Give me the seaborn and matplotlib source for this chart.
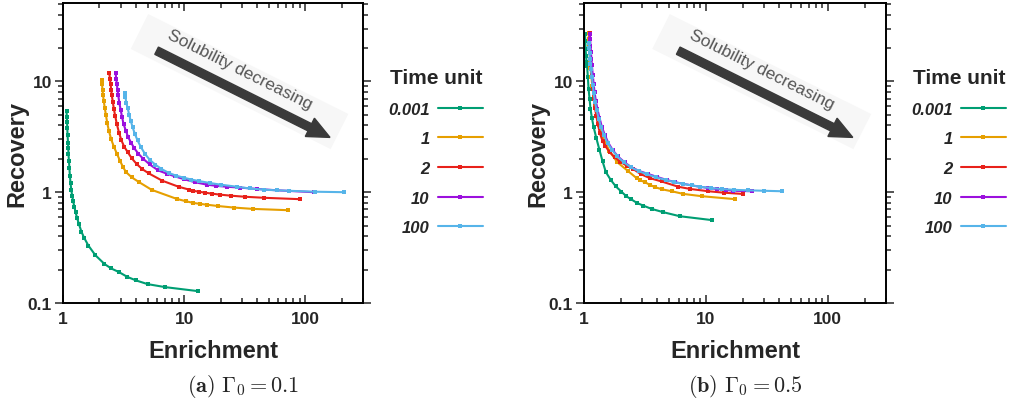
import numpy as np
import pandas as pd
import matplotlib
matplotlib.use("Agg")
import matplotlib.pyplot as plt
import seaborn as sns
from matplotlib.patches import FancyArrow, Polygon
from matplotlib.ticker import LogLocator, NullFormatter, FixedLocator, FixedFormatter

# ---------------- data ----------------
time_units = ["0.001", "1", "2", "10", "100"]
colors = ["#009E73", "#E69F00", "#E8211A", "#9B10DD", "#56B4E9"]

# Panel (a) Gamma0 = 0.1
a_x_0001 = [1.07, 1.075, 1.08, 1.085, 1.09, 1.10, 1.105, 1.11, 1.12, 1.13, 1.14, 1.155, 1.17, 1.19, 1.21,
            1.24, 1.27, 1.31, 1.35, 1.42, 1.49, 1.62, 1.85, 2.2, 2.5, 2.9, 3.4, 4.0, 5.0, 7.0, 13.0]
a_y_0001 = [5.4, 4.8, 4.3, 3.8, 3.3, 2.8, 2.5, 2.2, 1.9, 1.65, 1.4, 1.2, 1.05, 0.93, 0.84,
            0.74, 0.66, 0.58, 0.52, 0.44, 0.39, 0.33, 0.27, 0.225, 0.205, 0.19, 0.172, 0.16, 0.148, 0.139, 0.128]
a_x_1 = [2.08, 2.10, 2.12, 2.14, 2.17, 2.21, 2.26, 2.32, 2.39, 2.50, 2.64, 2.80, 2.95, 3.12, 3.31, 3.70,
         4.26, 5.4, 8.7, 10.3, 11.9, 13.5, 15.6, 19.1, 25.6, 36.8, 72]
a_y_1 = [10.4, 9.4, 8.45, 7.5, 6.7, 5.8, 5.0, 4.2, 3.6, 3.0, 2.55, 2.2, 1.93, 1.70, 1.52, 1.36,
         1.23, 1.05, 0.87, 0.83, 0.80, 0.785, 0.77, 0.75, 0.727, 0.707, 0.688]
a_x_2 = [2.41, 2.44, 2.47, 2.50, 2.53, 2.58, 2.63, 2.70, 2.78, 2.90, 3.04, 3.20, 3.42, 3.70, 4.05, 4.5,
         5.1, 6.6, 9.0, 11.0, 11.9, 13.2, 14.9, 17.0, 19.9, 24.4, 31.6, 46, 91]
a_y_2 = [11.9, 10.6, 9.5, 8.4, 7.46, 6.5, 5.65, 4.85, 4.14, 3.45, 2.93, 2.58, 2.30, 2.02, 1.80, 1.62,
         1.48, 1.27, 1.12, 1.055, 1.03, 1.01, 0.99, 0.97, 0.95, 0.93, 0.91, 0.89, 0.865]
a_x_10 = [2.72, 2.75, 2.78, 2.82, 2.86, 2.92, 2.99, 3.07, 3.16, 3.30, 3.45, 3.65, 3.87, 4.2, 4.6, 5.2,
          6.13, 7.2, 8.4, 10.0, 12.3, 15.4, 18.5, 22.6, 29.1, 40, 58.6, 118]
a_y_10 = [11.9, 10.6, 9.5, 8.4, 7.46, 6.4, 5.57, 4.8, 4.14, 3.6, 3.14, 2.8, 2.5, 2.22, 2.0, 1.78,
          1.57, 1.47, 1.39, 1.31, 1.23, 1.17, 1.14, 1.12, 1.10, 1.07, 1.04, 1.0]
a_x_100 = [3.24, 3.28, 3.33, 3.42, 3.52, 3.62, 3.76, 3.92, 4.13, 4.4, 4.75, 5.2, 5.8, 6.5, 7.5, 8.6,
           10.0, 11.5, 13.3, 16.4, 20, 27.3, 35, 45.4, 58, 73, 120, 211]
a_y_100 = [7.9, 7.2, 6.4, 5.73, 5.0, 4.43, 3.85, 3.36, 2.93, 2.55, 2.22, 1.96, 1.77, 1.62, 1.49, 1.41,
           1.35, 1.30, 1.26, 1.21, 1.17, 1.12, 1.08, 1.055, 1.04, 1.03, 1.01, 1.0]

# Panel (b) Gamma0 = 0.5
b_x_0001 = [1.02, 1.025, 1.03, 1.04, 1.05, 1.06, 1.075, 1.09, 1.11, 1.13, 1.16, 1.20, 1.26, 1.34,
            1.42, 1.51, 1.65, 1.82, 2.03, 2.22, 2.45, 2.72, 3.06, 3.58, 4.47, 6.1, 11.2]
b_y_0001 = [27, 23, 19.5, 17, 15, 13.9, 11, 8.6, 7, 5.67, 4.7, 3.87, 3.1, 2.4,
            1.9, 1.52, 1.3, 1.13, 1.01, 0.92, 0.86, 0.80, 0.757, 0.707, 0.66, 0.607, 0.56]
b_x_1 = [1.09, 1.095, 1.10, 1.11, 1.12, 1.13, 1.15, 1.17, 1.20, 1.23, 1.27, 1.32, 1.40, 1.50, 1.61,
         1.87, 2.30, 2.70, 2.90, 3.16, 3.45, 3.82, 4.40, 5.24, 6.52, 9.26, 17.4]
b_y_1 = [27.5, 24, 21, 18, 15.5, 13.2, 11, 9, 7.3, 6.0, 4.9, 4.0, 3.3, 2.8, 2.37,
         1.87, 1.55, 1.34, 1.28, 1.23, 1.17, 1.11, 1.06, 1.02, 0.965, 0.92, 0.865]
b_x_2 = [1.11, 1.115, 1.12, 1.13, 1.14, 1.15, 1.16, 1.18, 1.20, 1.23, 1.26, 1.30, 1.35, 1.42, 1.50,
         1.62, 1.78, 1.97, 2.25, 2.53, 2.91, 3.47, 4.33, 5.94, 7.42, 10.5, 14, 20]
b_y_2 = [27.5, 24, 21, 18, 15.8, 13.9, 11.5, 8.6, 7.0, 5.8, 4.9, 4.1, 3.4, 2.9, 2.6,
         2.3, 2.08, 1.89, 1.73, 1.62, 1.46, 1.34, 1.25, 1.12, 1.07, 1.02, 0.99, 0.965]
b_x_10 = [1.12, 1.125, 1.13, 1.14, 1.15, 1.16, 1.18, 1.20, 1.22, 1.25, 1.29, 1.34, 1.40, 1.48, 1.58,
          1.72, 1.90, 2.15, 2.45, 2.85, 3.36, 4.0, 4.77, 5.6, 6.52, 7.7, 8.94, 10.5, 12.3, 14.5, 16.8, 23.8]
b_y_10 = [27, 24, 21, 18.5, 16, 14, 11.5, 9.5, 8.0, 6.7, 5.6, 4.7, 3.9, 3.3, 2.8,
          2.4, 2.1, 1.86, 1.68, 1.55, 1.46, 1.37, 1.29, 1.23, 1.19, 1.15, 1.12, 1.09, 1.07, 1.05, 1.03, 1.02]
b_x_100 = [1.10, 1.105, 1.11, 1.12, 1.13, 1.14, 1.16, 1.18, 1.20, 1.23, 1.27, 1.32, 1.38, 1.46, 1.56,
           1.70, 1.88, 2.12, 2.42, 2.80, 3.3, 3.9, 4.7, 5.5, 6.5, 7.7, 9.0, 11, 13.5, 17, 22, 30, 42]
b_y_100 = [22, 20, 18, 16, 14.5, 13, 11, 9.2, 7.8, 6.5, 5.5, 4.6, 3.85, 3.25, 2.78,
           2.4, 2.1, 1.86, 1.68, 1.55, 1.45, 1.36, 1.29, 1.23, 1.19, 1.15, 1.12, 1.09, 1.07, 1.05, 1.04, 1.03, 1.02]

x_ticks = [1, 10, 100]
x_tick_labels = ["1", "10", "100"]
y_ticks = [0.1, 1, 10]
y_tick_labels = ["0.1", "1", "10"]
captions = [r"$\mathbf{(a)}\ \Gamma_0 = 0.1$", r"$\mathbf{(b)}\ \Gamma_0 = 0.5$"]

panel_a = [(a_x_0001, a_y_0001), (a_x_1, a_y_1), (a_x_2, a_y_2), (a_x_10, a_y_10), (a_x_100, a_y_100)]
panel_b = [(b_x_0001, b_y_0001), (b_x_1, b_y_1), (b_x_2, b_y_2), (b_x_10, b_y_10), (b_x_100, b_y_100)]


def to_frame(panel):
    rows = []
    for unit, (xs, ys) in zip(time_units, panel):
        for xv, yv in zip(xs, ys):
            rows.append({"Time unit": unit, "Enrichment": xv, "Recovery": yv})
    return pd.DataFrame(rows)


# ---------------- style ----------------
sns.set_style("ticks")
plt.rcParams["font.family"] = ["Liberation Sans", "DejaVu Sans"]
plt.rcParams["mathtext.fontset"] = "cm"

W, H = 1011, 402
fig = plt.figure(figsize=(W / 100, H / 100), dpi=100)

axes_px = [(63, 4, 300, 300), (584, 4, 302, 300)]
legend_px = [(388, 69), (911, 69)]
caption_px = [(243, 387), (745, 387)]

for k, panel in enumerate([panel_a, panel_b]):
    x0, y0, w, h = axes_px[k]
    ax = fig.add_axes([x0 / W, 1 - (y0 + h) / H, w / W, h / H])
    df = to_frame(panel)
    sns.lineplot(data=df, x="Enrichment", y="Recovery", hue="Time unit", hue_order=time_units,
                 palette=colors, sort=False, estimator=None,
                 marker="s", markersize=2.8, markeredgewidth=0, linewidth=1.5, ax=ax)
    ax.set_xscale("log")
    ax.set_yscale("log")
    ax.set_xlim(1, 300)
    ax.set_ylim(0.1, 51)
    ax.xaxis.set_major_locator(FixedLocator(x_ticks))
    ax.xaxis.set_major_formatter(FixedFormatter(x_tick_labels))
    ax.yaxis.set_major_locator(FixedLocator(y_ticks))
    ax.yaxis.set_major_formatter(FixedFormatter(y_tick_labels))
    ax.xaxis.set_minor_locator(LogLocator(base=10, subs=np.arange(2, 10)))
    ax.yaxis.set_minor_locator(LogLocator(base=10, subs=np.arange(2, 10)))
    ax.xaxis.set_minor_formatter(NullFormatter())
    ax.yaxis.set_minor_formatter(NullFormatter())
    for s in ax.spines.values():
        s.set_visible(True)
        s.set_linewidth(1.4)
        s.set_color("black")
    ax.tick_params(axis="x", which="both", direction="in", top=True, bottom=True, width=1.1, pad=6)
    ax.tick_params(axis="y", which="both", direction="out", left=True, right=True, width=1.1, pad=2)
    ax.tick_params(which="major", length=6, labelsize=12.5)
    ax.tick_params(which="minor", length=3.5)
    for lab in ax.get_xticklabels() + ax.get_yticklabels():
        lab.set_fontweight("bold")
    ax.set_xlabel("Enrichment", fontsize=17, fontweight="bold")
    ax.set_ylabel("Recovery", fontsize=17, fontweight="bold")
    ax.xaxis.set_label_coords(0.5, -36 / 300)
    ax.yaxis.set_label_coords(-35 / w, 0.5)

    # annotation: faint box, arrow, text
    box = Polygon([(0.284, 0.963), (0.951, 0.630), (0.892, 0.513), (0.226, 0.847)],
                  closed=True, transform=ax.transAxes, facecolor="#f7f7f7", edgecolor="none", zorder=0)
    ax.add_patch(box)
    tail = (0.312, 0.841)
    tip = (0.89, 0.552)
    arr = FancyArrow(tail[0], tail[1], tip[0] - tail[0], tip[1] - tail[1], width=0.027,
                     head_width=0.068, head_length=0.075, length_includes_head=True,
                     transform=ax.transAxes, color="#3a3a3a", zorder=1)
    ax.add_patch(arr)
    ax.text(0.59, 0.78, "Solubility decreasing", transform=ax.transAxes, rotation=-26.6,
            rotation_mode="anchor", ha="center", va="center", fontsize=12.5, color="#555555", zorder=2)

    handles, labels = ax.get_legend_handles_labels()
    ax.get_legend().remove()
    lx, ly = legend_px[k]
    leg = fig.legend(handles, labels, title="Time unit", loc="upper left",
                     bbox_to_anchor=(lx / W, 1 - ly / H), bbox_transform=fig.transFigure,
                     frameon=False, markerfirst=False, borderaxespad=0, borderpad=0,
                     prop={"weight": "bold", "style": "italic", "size": 12},
                     title_fontproperties={"weight": "bold", "size": 15},
                     handlelength=2.7, handletextpad=0.5, labelspacing=0.88)
    leg._legend_box.align = "right"
    for line in leg.get_lines():
        line.set_linewidth(1.5)

    cx, cy = caption_px[k]
    fig.text(cx / W, 1 - cy / H, captions[k], ha="center", va="center", fontsize=16)

fig.savefig("out.png", dpi=100)
